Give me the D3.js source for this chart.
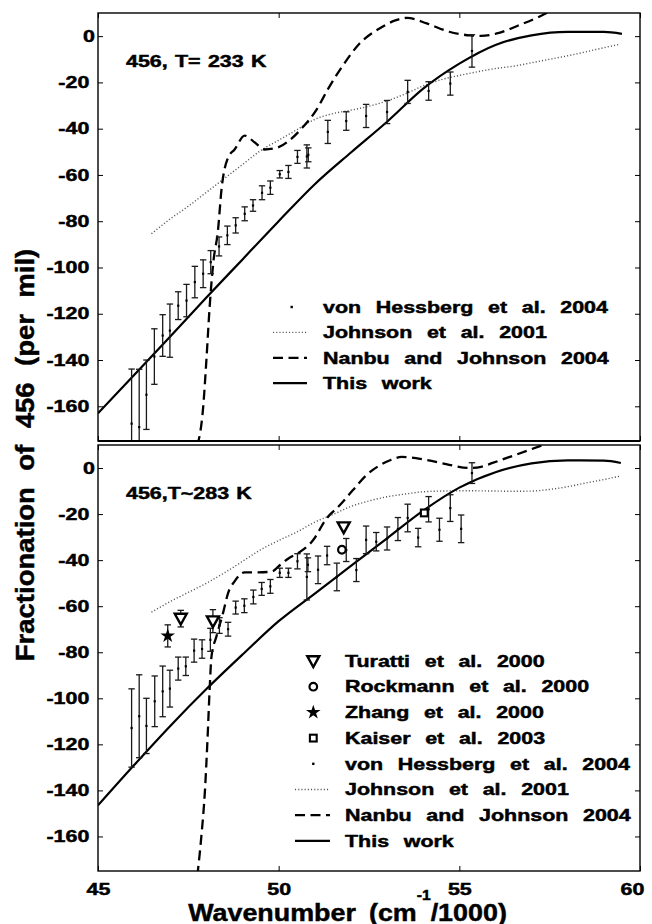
<!DOCTYPE html>
<html>
<head>
<meta charset="utf-8">
<script src="https://cdn.jsdelivr.net/npm/d3@7"></script>
<style>
  body { margin: 0; background: #fff; }
  svg { display: block; font-family: "Liberation Sans", Arial, sans-serif; font-weight: bold; }
  svg text { stroke: #000; stroke-width: 0.45px; fill: #000; }
</style>
</head>
<body>
<div id="chart"></div>
<script>
const width = 652;
const height = 924;

const xTicks = [45, 50, 55, 60];
const yTicks = [0, -20, -40, -60, -80, -100, -120, -140, -160];

// upper panel (T = 233 K): [wavenumber, per mil, error]
const hessTop = [
  [45.93, -167.5, 23.6], [46.14, -169, 25], [46.34, -155, 15], [46.56, -138.5, 12],
  [46.79, -129.4, 9], [46.99, -127.3, 11.5], [47.22, -116.5, 6], [47.45, -114.3, 7],
  [47.68, -106.3, 6.8], [47.91, -102.7, 6], [48.12, -97.7, 5], [48.35, -90.9, 4.1],
  [48.58, -86.1, 4], [48.81, -81.8, 3.3], [49.06, -76.8, 3], [49.29, -73.2, 2.5],
  [49.54, -67.7, 3], [49.77, -65.5, 2.9], [50.03, -59.7, 1.6], [50.27, -58.7, 2.8],
  [50.52, -52.2, 2.8], [50.78, -52, 5], [50.82, -51.3, 3], [51.36, -41.4, 5],
  [51.87, -36.7, 4], [52.42, -34.5, 5], [53.0, -32.8, 5], [53.57, -24.1, 5],
  [54.15, -23.7, 4], [54.75, -20.5, 5], [55.35, -6.4, 7]
];
const johnsonTop = [
  [46.48, -85.4], [47, -79], [47.5, -73.5], [48, -67.5], [48.5, -61.5], [49, -55.5],
  [49.5, -49.5], [50, -45], [50.5, -40.5], [51, -36], [51.5, -33.5], [52, -32],
  [52.5, -30.3], [53, -28], [53.5, -25], [54, -21.5], [54.5, -18.8], [55, -17],
  [55.5, -15.4], [56, -14], [56.5, -13], [57, -11.5], [57.5, -10], [58, -8.5],
  [58.5, -6.8], [59, -5], [59.45, -3.5]
];
const nanbuTop = [
  [47.75, -177], [47.91, -160.5], [48.0, -140], [48.09, -117], [48.19, -98], [48.32, -84],
  [48.42, -66], [48.6, -52.5], [48.78, -49], [49.06, -43], [49.34, -46], [49.61, -49],
  [50.0, -48], [50.3, -45], [50.63, -40], [51.04, -32], [51.36, -23], [51.78, -12.6],
  [52.24, -3.2], [52.79, 3.3], [53.25, 6.9], [53.55, 7.9], [54.1, 5.5], [54.72, 1.9],
  [55.3, 0.3], [55.6, 0.1], [56.1, 1.4], [56.66, 4.8], [57.21, 8.4], [57.6, 11.5]
];
const workTop = [
  [45, -163], [46, -146.5], [47, -129.8], [48, -113], [49, -96.5], [50, -80],
  [51, -64], [52, -50.3], [53, -37], [54, -22.7], [55, -11.9], [56, -3.8],
  [57, 0.3], [58, 1.8], [59, 1.8], [59.5, 1.0]
];

// lower panel (T ~ 283 K)
const hessBottom = [
  [45.93, -112.9, 17], [46.14, -107.8, 18], [46.34, -112, 12], [46.57, -101.3, 11],
  [46.79, -97, 11], [46.99, -95.8, 8], [47.22, -87.1, 5], [47.43, -86.1, 4],
  [47.66, -79.3, 5], [47.88, -78.6, 4], [48.11, -74.6, 5], [48.36, -68.4, 3.4],
  [48.6, -70, 3], [48.81, -60.6, 2.8], [49.05, -59.8, 3], [49.3, -56, 3],
  [49.53, -52.5, 2.8], [49.77, -51.4, 3], [50.03, -45.5, 2], [50.27, -45.5, 2],
  [50.52, -40.5, 3.3], [50.78, -47.3, 10], [50.81, -42, 3], [51.09, -44.2, 6],
  [51.34, -38, 4], [51.61, -47.3, 6], [51.87, -35.6, 5], [52.15, -44.3, 5],
  [52.42, -31.2, 6], [52.7, -32, 4], [53.0, -30.6, 5], [53.3, -26.5, 5],
  [53.57, -21.7, 6], [53.86, -30.2, 4], [54.15, -17.9, 5.5], [54.45, -26.8, 5],
  [54.75, -17.4, 5.8], [55.05, -26.4, 6], [55.35, -2.2, 4.5]
];
const johnsonBottom = [
  [46.48, -62.6], [47, -58], [47.5, -54], [48, -50], [48.5, -45.5], [49, -40.5],
  [49.5, -35.5], [50, -31.5], [50.5, -27.8], [51, -23.5], [51.5, -20.2], [52, -16.7],
  [52.5, -14.3], [53, -12.5], [53.5, -11.3], [54, -10.3], [54.5, -10], [55, -9.9],
  [55.5, -9.9], [56, -10], [56.5, -10.1], [57, -10], [57.5, -9.3], [58, -8.1],
  [58.5, -6.5], [59, -5], [59.42, -3.6]
];
const nanbuBottom = [
  [47.75, -177], [47.86, -160], [47.96, -140], [48.03, -118], [48.09, -96], [48.14, -82],
  [48.28, -73], [48.46, -63], [48.6, -54.3], [48.78, -49.2], [49.06, -45.3], [49.43, -45.3],
  [49.8, -45], [50.05, -42], [50.26, -39.4], [50.58, -36.5], [50.95, -31.4], [51.32, -22],
  [51.69, -16.2], [52.05, -9.7], [52.42, -3.2], [52.79, 1.1], [53.1, 3.5], [53.4, 4.8],
  [53.8, 4.3], [54.1, 3.5], [54.72, 1.4], [55.28, 0], [55.6, 0.5], [55.92, 2.2],
  [56.57, 5.8], [57.21, 9.4], [57.5, 11]
];
const workBottom = [
  [45, -146.5], [46, -129], [47, -112], [48, -96], [49, -81], [50, -66.5],
  [51, -54.5], [52, -42.5], [53, -30.5], [54, -18.5], [55, -8.5], [56, -1.8],
  [57, 2], [58, 3.3], [59, 3.2], [59.47, 2.2]
];
const turatti = [[47.29, -65.4, 3.6], [48.18, -66.5, 5], [51.8, -25.7, 0]];
const rockmann = [[51.75, -35.5, 0]];
const zhang = [[46.93, -72.9, 4.8]];
const kaiser = [[54.03, -19.5, 0]];

const legendTop = ["von Hessberg et al. 2004", "Johnson et al. 2001", "Nanbu and Johnson 2004", "This work"];
const kindsTop = ["dot", "dotted", "dashed", "solid"];
const legendBottom = ["Turatti et al. 2000", "Rockmann et al. 2000", "Zhang et al. 2000", "Kaiser et al. 2003"].concat(legendTop);
const kindsBottom = ["tri", "circle", "star", "square"].concat(kindsTop);

// glyphs in the figure are rendered wide
const STRETCH = 1.34;

const svg = d3.select("#chart").append("svg")
  .attr("width", width).attr("height", height)
  .attr("viewBox", `0 0 ${width} ${height}`);

const x = d3.scaleLinear().domain([45, 60]).range([98, 640]);

function wideText(sel, px, py, str, size, anchor, spacing) {
  return sel.append("text")
    .attr("transform", `translate(${px},${py}) scale(${STRETCH},1)`)
    .attr("text-anchor", anchor || "start")
    .style("font-size", size + "px")
    .style("word-spacing", (spacing == null ? 6.5 : spacing) + "px")
    .text(str);
}

function marker(sel, kind) {
  if (kind === "tri") {
    sel.append("path").attr("d", "M-6,-4.8L6,-4.8L0,6Z")
      .attr("fill", "#fff").attr("stroke", "#000").attr("stroke-width", 2.4);
  } else if (kind === "circle") {
    sel.append("circle").attr("r", 3.8)
      .attr("fill", "#fff").attr("stroke", "#000").attr("stroke-width", 2.2);
  } else if (kind === "square") {
    sel.append("rect").attr("x", -3.4).attr("y", -3.4).attr("width", 6.8).attr("height", 6.8)
      .attr("fill", "#fff").attr("stroke", "#000").attr("stroke-width", 2.1);
  } else if (kind === "star") {
    sel.append("path").attr("d", d3.symbol(d3.symbolStar, 66)()).attr("fill", "#000");
  } else if (kind === "dot") {
    sel.append("rect").attr("x", -1.2).attr("y", -1.2).attr("width", 2.4).attr("height", 2.4).attr("fill", "#000");
  }
}

const lineStyles = {
  dotted: { stroke: "#555", width: 1.4, dash: "1.1,2.1" },
  dashed: { stroke: "#000", width: 2.3, dash: "10,5.5" },
  solid: { stroke: "#000", width: 2.2, dash: null }
};

function errorBars(g, y, data) {
  const eb = g.append("g").selectAll("g")
    .data(data.filter((d) => d[2] > 0))
    .join("g")
    .attr("transform", (d) => `translate(${x(d[0])},0)`)
    .attr("stroke", "#1a1a1a").attr("stroke-width", 1.3);
  eb.append("line").attr("y1", (d) => y(d[1] - d[2])).attr("y2", (d) => y(d[1] + d[2]));
  eb.append("line").attr("x1", -3.2).attr("x2", 3.2)
    .attr("y1", (d) => y(d[1] + d[2])).attr("y2", (d) => y(d[1] + d[2]));
  eb.append("line").attr("x1", -3.2).attr("x2", 3.2)
    .attr("y1", (d) => y(d[1] - d[2])).attr("y2", (d) => y(d[1] - d[2]));
}

const panels = [
  {
    top: 13, bottom: 441, id: "p0",
    hess: hessTop, johnson: johnsonTop, nanbu: nanbuTop, work: workTop, points: [],
    note: "456, T= 233 K", legend: legendTop, kinds: kindsTop,
    leg: { sym: 291.7, x0: 273, x1: 307, text: 323, y0: 312.7, step: 25.4 },
    xLabels: false
  },
  {
    top: 445, bottom: 871, id: "p1",
    hess: hessBottom, johnson: johnsonBottom, nanbu: nanbuBottom, work: workBottom,
    points: [["tri", turatti], ["circle", rockmann], ["star", zhang], ["square", kaiser]],
    note: "456,T~283 K", legend: legendBottom, kinds: kindsBottom,
    leg: { sym: 313.3, x0: 295, x1: 330, text: 345, y0: 666.7, step: 25.7 },
    xLabels: true
  }
];

panels.forEach((p) => {
  const y = d3.scaleLinear().domain([-175, 10]).range([p.bottom, p.top]);
  const g = svg.append("g");

  svg.append("clipPath").attr("id", "clip-" + p.id)
    .append("rect").attr("x", x.range()[0]).attr("y", p.top)
    .attr("width", x.range()[1] - x.range()[0]).attr("height", p.bottom - p.top);

  const plot = g.append("g").attr("clip-path", `url(#clip-${p.id})`);
  const line = d3.line().x((d) => x(d[0])).y((d) => y(d[1])).curve(d3.curveMonotoneX);

  [["dotted", p.johnson], ["dashed", p.nanbu], ["solid", p.work]].forEach(([k, data]) => {
    const s = lineStyles[k];
    plot.append("path").datum(data).attr("d", line)
      .attr("fill", "none").attr("stroke", s.stroke).attr("stroke-width", s.width)
      .attr("stroke-dasharray", s.dash);
  });

  errorBars(plot, y, p.hess);
  plot.append("g").selectAll("rect").data(p.hess).join("rect")
    .attr("x", (d) => x(d[0]) - 1.1).attr("y", (d) => y(d[1]) - 1.1)
    .attr("width", 2.2).attr("height", 2.2).attr("fill", "#000");

  p.points.forEach(([kind, data]) => {
    errorBars(plot, y, data);
    plot.append("g").selectAll("g").data(data).join("g")
      .attr("transform", (d) => `translate(${x(d[0])},${y(d[1])})`)
      .each(function () { marker(d3.select(this), kind); });
  });

  // frame
  g.append("rect").attr("x", x.range()[0]).attr("y", p.top)
    .attr("width", x.range()[1] - x.range()[0]).attr("height", p.bottom - p.top)
    .attr("fill", "none").attr("stroke", "#000").attr("stroke-width", 1.4);

  const tickFmt = (d) => String(d);
  const axL = g.append("g").attr("transform", `translate(${x.range()[0]},0)`)
    .call(d3.axisLeft(y).tickValues(yTicks).tickSizeInner(-5).tickSizeOuter(0).tickFormat(tickFmt));
  const axR = g.append("g").attr("transform", `translate(${x.range()[1]},0)`)
    .call(d3.axisRight(y).tickValues(yTicks).tickSizeInner(-5).tickSizeOuter(0).tickFormat(""));
  const axT = g.append("g").attr("transform", `translate(0,${p.top})`)
    .call(d3.axisTop(x).tickValues(xTicks).tickSizeInner(-5).tickSizeOuter(0).tickFormat(""));
  const axB = g.append("g").attr("transform", `translate(0,${p.bottom})`)
    .call(d3.axisBottom(x).tickValues(xTicks).tickSizeInner(-5).tickSizeOuter(0).tickPadding(12.5)
      .tickFormat(p.xLabels ? tickFmt : ""));

  [axL, axR, axT, axB].forEach((a) => {
    a.select(".domain").remove();
    a.selectAll("line").attr("stroke", "#000").attr("stroke-width", 1);
    a.selectAll("text").attr("fill", "#000")
      .style("font-family", "'Liberation Sans', Arial, sans-serif")
      .style("font-weight", "bold").style("font-size", "16px");
  });
  axL.selectAll("text")
    .attr("x", (d) => (d === 0 ? -3 : -8.7) / STRETCH)
    .attr("transform", `scale(${STRETCH},1)`);
  axB.selectAll("text")
    .attr("x", (d) => (d === 60 ? -8 : 0) / STRETCH)
    .attr("transform", `scale(${STRETCH},1)`);

  if (p.top === 13) {
    g.append("line").attr("x1", x.range()[0]).attr("x2", x.range()[1])
      .attr("y1", p.bottom).attr("y2", p.bottom).attr("stroke", "#000").attr("stroke-width", 2.2);
  }

  wideText(g, 126, p.top + 54, p.note, 16, "start", 1);

  // legend
  const lg = g.append("g");
  p.legend.forEach((label, i) => {
    const base = p.leg.y0 + i * p.leg.step;
    const cy = base - 5.7;
    const kind = p.kinds[i];
    if (lineStyles[kind]) {
      const s = lineStyles[kind];
      lg.append("line").attr("x1", p.leg.x0).attr("x2", p.leg.x1).attr("y1", cy).attr("y2", cy)
        .attr("stroke", s.stroke).attr("stroke-width", s.width).attr("stroke-dasharray", s.dash);
    } else {
      marker(lg.append("g").attr("transform", `translate(${p.leg.sym},${cy})`), kind);
    }
    wideText(lg, p.leg.text, base, label, 16);
  });
});

// axis titles
svg.append("text")
  .attr("transform", "translate(347.5,920.5) scale(1.12,1)")
  .attr("text-anchor", "middle")
  .style("font-size", "24px").style("word-spacing", "5px")
  .call((t) => {
    t.append("tspan").text("Wavenumber (cm");
    t.append("tspan").attr("dy", -21).style("font-size", "14px").text("-1");
    t.append("tspan").attr("dy", 21).text("/1000)");
  });

svg.append("text")
  .attr("transform", "translate(33.5,455) rotate(-90) scale(1.1,1)")
  .attr("text-anchor", "middle")
  .style("font-size", "25px").style("word-spacing", "8px")
  .text("Fractionation of 456 (per mil)");
</script>
</body>
</html>
